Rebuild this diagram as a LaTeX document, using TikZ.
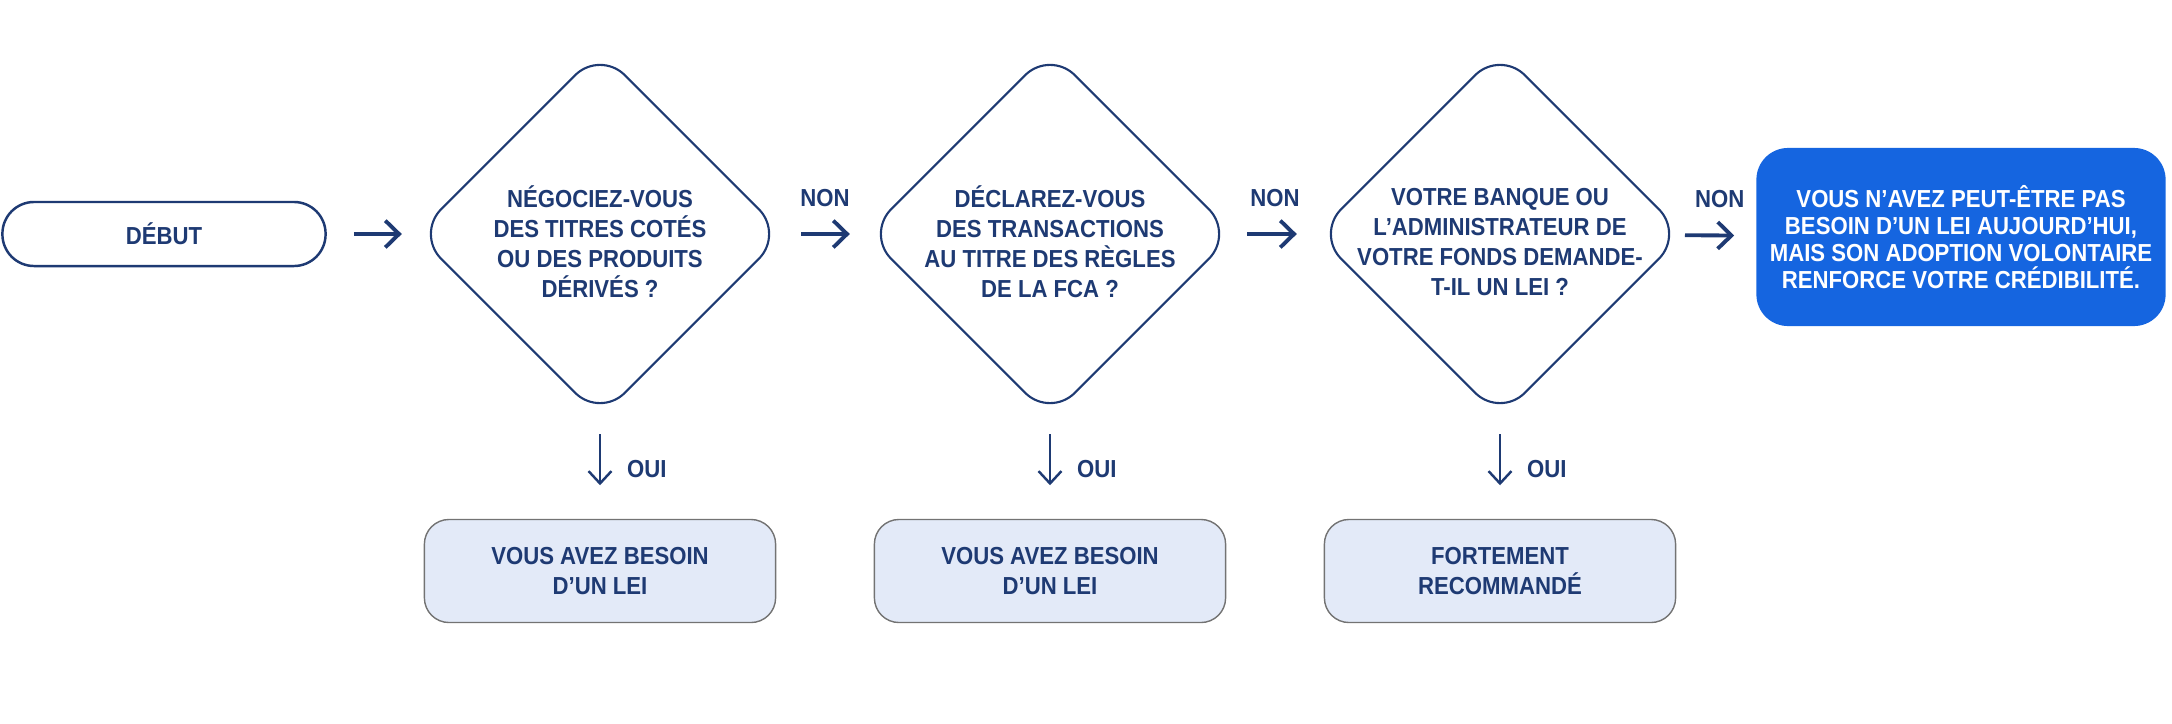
\documentclass[tikz,border=0pt]{standalone}
\usepackage{fontspec}
\setmainfont[FakeStretch=0.9]{Liberation Sans}
\usepackage{tikz}
\usetikzlibrary{arrows.meta,shapes.geometric}
\definecolor{navy}{HTML}{1E3A73}
\definecolor{leiblue}{HTML}{1565E0}
\definecolor{paleblue}{HTML}{E3EAF8}
\tikzstyle{start}=[draw=navy,line width=0.7pt,fill=white,rounded corners=9pt,minimum width=3.23cm,minimum height=0.64cm,inner sep=0pt]
\tikzstyle{question}=[diamond,aspect=1,draw=navy,line width=0.6pt,fill=white,rounded corners=10pt,minimum width=3.68cm,minimum height=3.68cm,inner sep=0pt]
\tikzstyle{qtext}=[align=center,inner sep=0pt]
\tikzstyle{result}=[draw=black!55,line width=0.4pt,fill=paleblue,rounded corners=7pt,minimum width=3.51cm,minimum height=1.03cm,align=center]
\tikzstyle{final}=[fill=leiblue,text=white,rounded corners=9pt,minimum width=4.09cm,minimum height=1.78cm,align=center,font=\bfseries\fontsize{7}{7.7}\selectfont]
\tikzstyle{flow} = [draw=navy,line width=1.1pt,-{Straight Barb[length=3.9pt,width=7.6pt]}]
\tikzstyle{branch} = [draw=navy,line width=0.7pt,-{Straight Barb[length=3.5pt,width=6.5pt]}]
\tikzstyle{answer} = [font=\bfseries\fontsize{7}{8}\selectfont]

\begin{document}
\begin{tikzpicture}[x=0.01cm,y=-0.01cm,
    every node/.style={text=navy,font=\bfseries\fontsize{7}{8.5}\selectfont}]
    \useasboundingbox (0,0) rectangle (2172,724);
    % start and questions
    \node[start] (debut) at (164,234) {DÉBUT};
    \foreach \pos/\name in {{(600,234)/q1}, {(1050,234)/q2}, {(1500,234)/q3}}
        \node[question] (\name) at \pos {};
    \node[qtext] (q1txt) at ([yshift=-0.08cm]q1.center) {NÉGOCIEZ-VOUS\\DES TITRES COTÉS\\OU DES PRODUITS\\DÉRIVÉS ?};
    \node[qtext] (q2txt) at ([yshift=-0.08cm]q2.center) {DÉCLAREZ-VOUS\\DES TRANSACTIONS\\AU TITRE DES RÈGLES\\DE LA FCA ?};
    \node[qtext] (q3txt) at ([yshift=-0.08cm]q3.center) {VOTRE BANQUE OU\\L’ADMINISTRATEUR DE\\VOTRE FONDS DEMANDE-\\T-IL UN LEI ?};
    \node[final] (fin) at (1961,237) {VOUS N’AVEZ PEUT-ÊTRE PAS\\BESOIN D’UN LEI AUJOURD’HUI,\\MAIS SON ADOPTION VOLONTAIRE\\RENFORCE VOTRE CRÉDIBILITÉ.};
    % outcomes
    \foreach \pos/\name/\txt in {{(600,571)/r1/{VOUS AVEZ BESOIN\\D’UN LEI}},
                                 {(1050,571)/r2/{VOUS AVEZ BESOIN\\D’UN LEI}},
                                 {(1500,571)/r3/{FORTEMENT\\RECOMMANDÉ}}}
        \node[result] (\name) at \pos {\txt};
    % connect with arrows
    \path[flow,shorten <=0.27cm,shorten >=0.13cm] (debut) -- (q1);
    \foreach \source/\dest/\gapa/\gapb in {q1/q2/0.16/0.15, q2/q3/0.12/0.18, q3/fin/0.01/0.215}
        \path[flow,shorten <=\gapa cm,shorten >=\gapb cm] (\source) -- node[answer,above=4pt] {NON} (\dest);
    \foreach \source/\dest in {q1/r1, q2/r2, q3/r3}
        \path[branch,shorten <=0.15cm,shorten >=0.335cm] (\source) -- node[answer,right=4pt] {OUI} (\dest);
\end{tikzpicture}
\end{document}
